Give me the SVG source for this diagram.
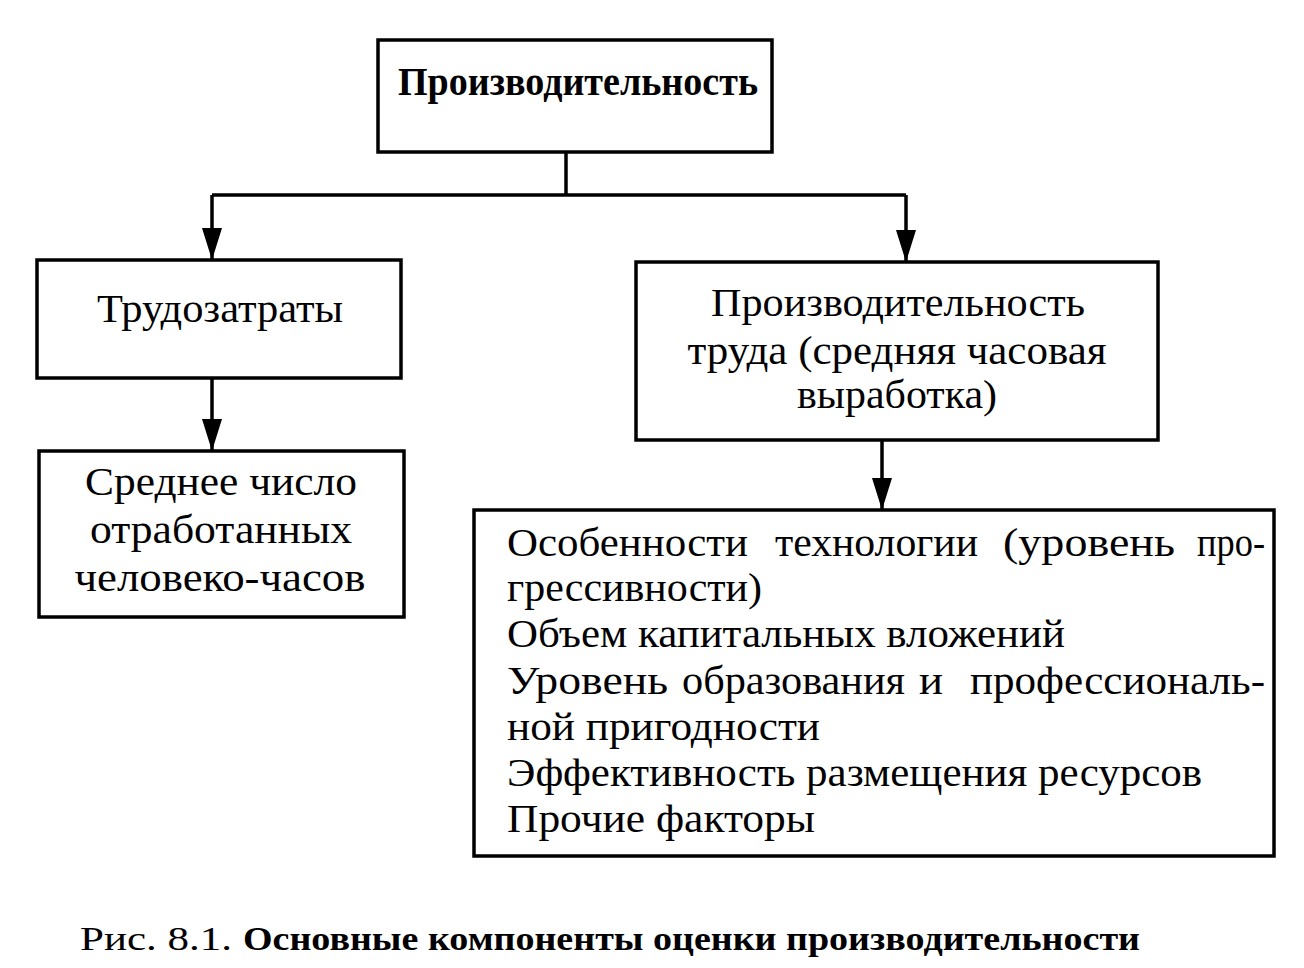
<svg xmlns="http://www.w3.org/2000/svg" width="1304" height="968" viewBox="0 0 1304 968">
<style>
.box{fill:#fff;stroke:#000;stroke-width:3.5}
.ln{fill:none;stroke:#000;stroke-width:3.5}
.t{font-family:"Liberation Serif","Times New Roman",serif;font-size:39px;fill:#000}
.c{text-anchor:middle}
.b{font-weight:bold}
.cap{font-family:"Liberation Serif","Times New Roman",serif;font-size:34px;fill:#000}
</style>
<defs>
<marker id="arr" viewBox="0 0 32 20" refX="32" refY="10" markerWidth="32" markerHeight="20" markerUnits="userSpaceOnUse" orient="auto">
<path d="M0,0 L32,10 L0,20 z" fill="#000"/>
</marker>
</defs>
<rect width="1304" height="968" fill="#fff"/>
<g id="connectors">
<path class="ln" d="M566,152 V195"/>
<path class="ln" d="M212,195 H906"/>
<path class="ln" d="M212,195 V260" marker-end="url(#arr)"/>
<path class="ln" d="M906,195 V262" marker-end="url(#arr)"/>
<path class="ln" d="M212,378 V451" marker-end="url(#arr)"/>
<path class="ln" d="M882,440 V510" marker-end="url(#arr)"/>
</g>
<g id="node-top">
<rect class="box" x="378" y="40" width="394" height="112"/>
<text class="t c b" x="578" y="95" textLength="360" lengthAdjust="spacingAndGlyphs">Производительность</text>
</g>
<g id="node-labor">
<rect class="box" x="37" y="260" width="364" height="118"/>
<text class="t c" x="220" y="322" textLength="246" lengthAdjust="spacingAndGlyphs">Трудозатраты</text>
</g>
<g id="node-hours">
<rect class="box" x="39" y="451" width="365" height="166"/>
<text class="t c" x="221" y="495" textLength="272" lengthAdjust="spacingAndGlyphs">Среднее число</text>
<text class="t c" x="221" y="543" textLength="262" lengthAdjust="spacingAndGlyphs">отработанных</text>
<text class="t c" x="220" y="591" textLength="291" lengthAdjust="spacingAndGlyphs">человеко-часов</text>
</g>
<g id="node-productivity">
<rect class="box" x="636" y="262" width="522" height="178"/>
<text class="t c" x="898" y="316" textLength="374" lengthAdjust="spacingAndGlyphs">Производительность</text>
<text class="t c" x="897" y="364" textLength="419" lengthAdjust="spacingAndGlyphs">труда (средняя часовая</text>
<text class="t c" x="897" y="408" textLength="200" lengthAdjust="spacingAndGlyphs">выработка)</text>
</g>
<g id="node-factors">
<rect class="box" x="474" y="510" width="800" height="346"/>
<text class="t" y="556"><tspan x="507" textLength="241" lengthAdjust="spacingAndGlyphs">Особенности</tspan><tspan x="775" textLength="203" lengthAdjust="spacingAndGlyphs">технологии</tspan><tspan x="1003" textLength="172" lengthAdjust="spacingAndGlyphs">(уровень</tspan><tspan x="1197" textLength="68" lengthAdjust="spacingAndGlyphs">про-</tspan></text>
<text class="t" x="507" y="601" textLength="255" lengthAdjust="spacingAndGlyphs">грессивности)</text>
<text class="t" x="507" y="647" textLength="558" lengthAdjust="spacingAndGlyphs">Объем капитальных вложений</text>
<text class="t" y="694"><tspan x="507" textLength="161" lengthAdjust="spacingAndGlyphs">Уровень</tspan><tspan x="682" textLength="223" lengthAdjust="spacingAndGlyphs">образования</tspan><tspan x="919" textLength="24" lengthAdjust="spacingAndGlyphs">и</tspan><tspan x="970" textLength="295" lengthAdjust="spacingAndGlyphs">профессиональ-</tspan></text>
<text class="t" x="507" y="740" textLength="313" lengthAdjust="spacingAndGlyphs">ной пригодности</text>
<text class="t" x="507" y="786" textLength="695" lengthAdjust="spacingAndGlyphs">Эффективность размещения ресурсов</text>
<text class="t" x="507" y="832" textLength="308" lengthAdjust="spacingAndGlyphs">Прочие факторы</text>
</g>
<g id="caption">
<text class="cap" x="80" y="950" textLength="152" lengthAdjust="spacingAndGlyphs">Рис. 8.1.</text>
<text class="cap b" x="243" y="950" textLength="897" lengthAdjust="spacingAndGlyphs">Основные компоненты оценки производительности</text>
</g>
</svg>
